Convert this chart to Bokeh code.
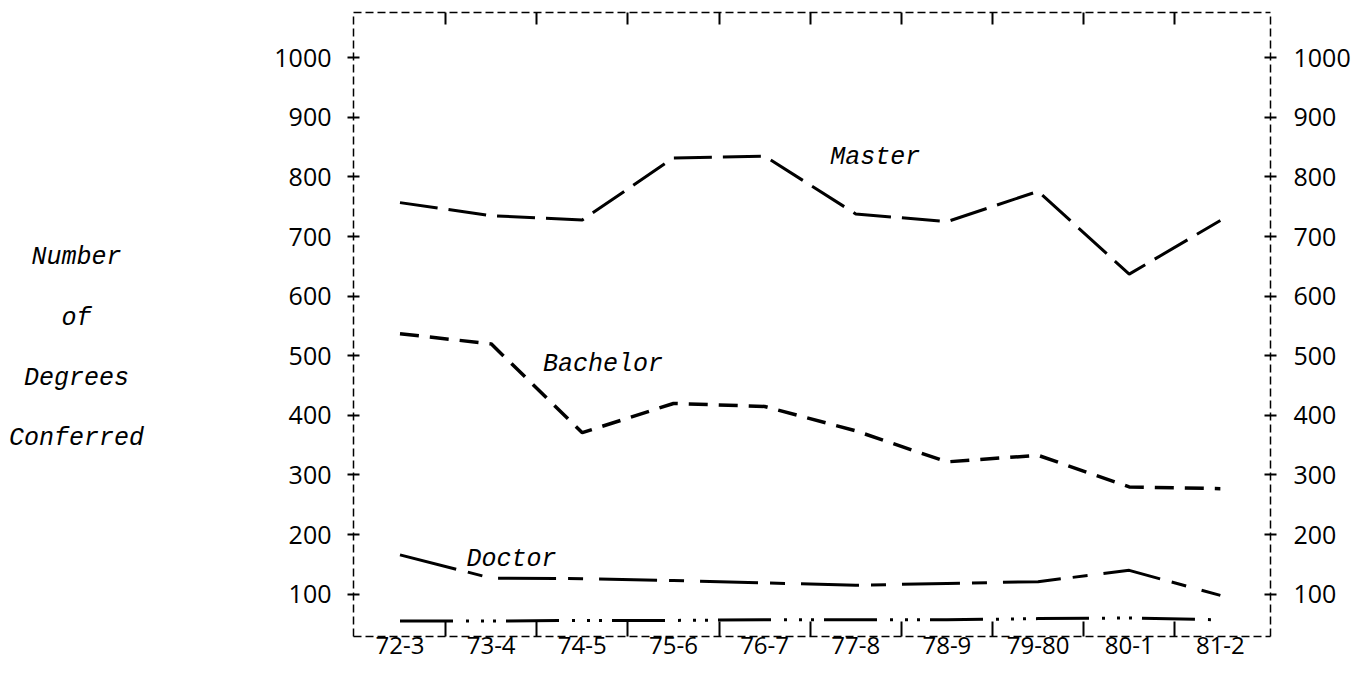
from bokeh.plotting import figure
from bokeh.layouts import row
from bokeh.models import Range1d, LinearAxis, FixedTicker, Label
from bokeh.core.properties import value
from bokeh.embed import file_html
from bokeh.resources import INLINE

years = ["72-3", "73-4", "74-5", "75-6", "76-7", "77-8", "78-9", "79-80", "80-1", "81-2"]
master = [757, 735, 728, 832, 835, 738, 725, 776, 637, 727]
bachelor = [537, 520, 371, 420, 415, 374, 322, 333, 280, 277]
doctor = [166, 127, 126, 123, 119, 115, 118, 121, 140, 98]
other = [55, 55, 56, 56, 57, 57, 57, 59, 60, 57]
y_ticks = [100, 200, 300, 400, 500, 600, 700, 800, 900, 1000]
title_lines = ["Number", "of", "Degrees", "Conferred"]
title_y = [665, 563, 462, 361]

xs = list(range(len(years)))
between = [i + 0.5 for i in range(len(years) - 1)]

H = 668
LEFT_W = 200
tick_font = "Open Sans"
dash_frame = "8 4"
lab_font = "Liberation Mono"

y_range = Range1d(29, 1076)

# left panel holding the y-axis title (shares the value scale of the main plot)
t = figure(width=LEFT_W, height=H, x_range=Range1d(0, LEFT_W), y_range=y_range,
           output_backend="svg", toolbar_location=None,
           x_axis_location=None, y_axis_location=None,
           min_border_left=0, min_border_right=0, min_border_top=12, min_border_bottom=32)
t.grid.visible = False
t.outline_line_color = None
t.border_fill_color = "white"
t.background_fill_color = "white"
t.text(x=[76] * len(title_lines), y=title_y, text=title_lines,
       text_align="center", text_baseline="alphabetic",
       text_font=value(lab_font), text_font_style="italic",
       text_font_size="25px", text_color="black")

p = figure(width=1353 - LEFT_W, height=H, x_range=Range1d(-0.51, 9.55), y_range=y_range,
           output_backend="svg", toolbar_location=None,
           x_axis_location=None, y_axis_location=None,
           min_border_left=353 - LEFT_W, min_border_right=80, min_border_top=12, min_border_bottom=32)
p.grid.visible = False
p.outline_line_color = None
p.background_fill_color = "white"
p.border_fill_color = "white"

def style_axis(ax, size="25px"):
    ax.axis_line_color = "black"
    ax.axis_line_dash = dash_frame
    ax.axis_line_width = 1.5
    ax.major_tick_line_color = "black"
    ax.major_tick_line_width = 2
    ax.minor_tick_line_color = "black"
    ax.minor_tick_line_width = 2
    ax.major_label_text_font = tick_font
    ax.major_label_text_font_size = size
    ax.major_label_text_color = "black"

for side, standoff in (("left", 16), ("right", 17)):
    ax = LinearAxis(ticker=FixedTicker(ticks=y_ticks, minor_ticks=[]))
    style_axis(ax)
    ax.major_tick_in = 6
    ax.major_tick_out = 6
    ax.minor_tick_in = 0
    ax.minor_tick_out = 0
    ax.major_label_standoff = standoff
    p.add_layout(ax, side)

bottom = LinearAxis(ticker=FixedTicker(ticks=xs, minor_ticks=between),
                    major_label_overrides={i: years[i] for i in xs})
style_axis(bottom, "24px")
bottom.major_tick_in = 0
bottom.major_tick_out = 0
bottom.minor_tick_in = 15
bottom.minor_tick_out = 0
bottom.major_label_standoff = 0
p.add_layout(bottom, "below")

top = LinearAxis(ticker=FixedTicker(ticks=[], minor_ticks=between))
style_axis(top)
top.major_tick_in = 0
top.major_tick_out = 0
top.minor_tick_in = 12
top.minor_tick_out = 0
top.major_label_text_font_size = "0px"
top.major_label_standoff = 0
p.add_layout(top, "above")

p.line(xs, master, line_color="black", line_width=3, line_dash="38 11")
p.line(xs, bachelor, line_color="black", line_width=3.5, line_dash="19 11")
p.line(xs, doctor, line_color="black", line_width=3, line_dash="58 12 15 16")
p.line(xs, other, line_color="black", line_width=3, line_dash="53 13 3 12 3 9 3 10")

for txt, x, y in (("Master", 4.72, 832), ("Bachelor", 1.57, 486), ("Doctor", 0.73, 159)):
    p.add_layout(Label(x=x, y=y, text=txt, text_font=lab_font, text_font_style="italic",
                       text_font_size="25px", text_color="black", text_align="left",
                       text_baseline="alphabetic"))

layout = row(t, p, spacing=0)
open("out.html", "w").write(file_html(layout, INLINE))
